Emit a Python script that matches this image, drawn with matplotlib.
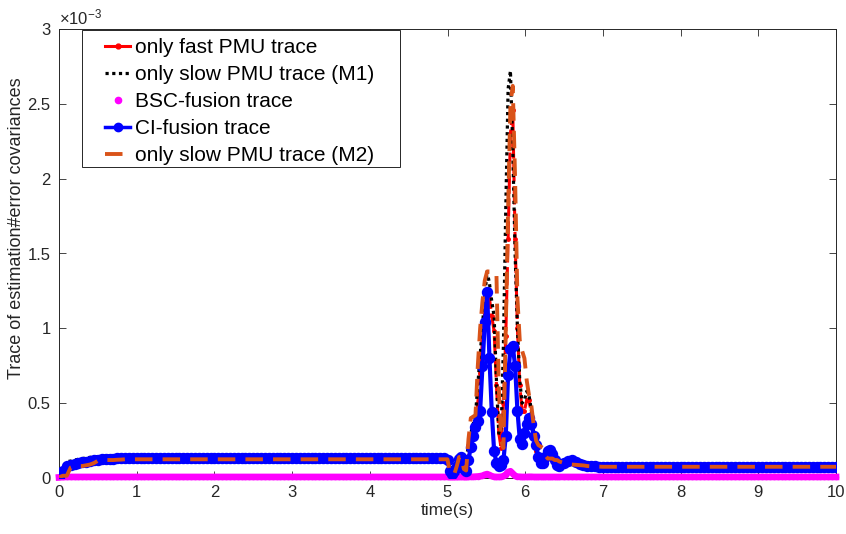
import matplotlib
matplotlib.use("Agg")
import matplotlib.pyplot as plt
from matplotlib.lines import Line2D
from matplotlib.patches import Rectangle
from matplotlib.ticker import FuncFormatter

plt.rcParams['font.family'] = ['Liberation Sans', 'DejaVu Sans']
plt.rcParams['mathtext.fontset'] = 'custom'
plt.rcParams['mathtext.rm'] = 'Liberation Sans'
plt.rcParams['mathtext.it'] = 'Liberation Sans:italic'

# ---------------- data (values in units of 1e-3) ----------------
time_s = [
    0.0, 0.05, 0.1, 0.15, 0.2, 0.25, 0.3, 0.35, 0.4, 0.45,
    0.5, 0.55, 0.6, 0.65, 0.7, 0.75, 0.8, 0.85, 0.9, 0.95, 1.0,
    1.05, 1.1, 1.15, 1.2, 1.25, 1.3, 1.35, 1.4, 1.45, 1.5,
    1.55, 1.6, 1.65, 1.7, 1.75, 1.8, 1.85, 1.9, 1.95, 2.0,
    2.05, 2.1, 2.15, 2.2, 2.25, 2.3, 2.35, 2.4, 2.45, 2.5,
    2.55, 2.6, 2.65, 2.7, 2.75, 2.8, 2.85, 2.9, 2.95, 3.0,
    3.05, 3.1, 3.15, 3.2, 3.25, 3.3, 3.35, 3.4, 3.45, 3.5,
    3.55, 3.6, 3.65, 3.7, 3.75, 3.8, 3.85, 3.9, 3.95, 4.0,
    4.05, 4.1, 4.15, 4.2, 4.25, 4.3, 4.35, 4.4, 4.45, 4.5,
    4.55, 4.6, 4.65, 4.7, 4.75, 4.8, 4.85, 4.9, 4.95,
    5.00, 5.03, 5.06, 5.09, 5.12, 5.15, 5.18, 5.21, 5.24, 5.27, 5.30, 5.33,
    5.36, 5.39, 5.42, 5.45, 5.48, 5.51, 5.54, 5.57, 5.60, 5.63, 5.66, 5.69,
    5.72, 5.75, 5.78, 5.81, 5.84, 5.87, 5.90, 5.93, 5.96, 5.99, 6.02, 6.05,
    6.08, 6.11, 6.14, 6.17, 6.20, 6.23, 6.26, 6.29, 6.32, 6.35, 6.38, 6.41, 6.44,
    6.50, 6.55, 6.60, 6.65, 6.70, 6.75, 6.80, 6.85, 6.90, 6.95,
    7.0, 7.05, 7.1, 7.15, 7.2, 7.25, 7.3, 7.35, 7.4, 7.45,
    7.5, 7.55, 7.6, 7.65, 7.7, 7.75, 7.8, 7.85, 7.9, 7.95,
    8.0, 8.05, 8.1, 8.15, 8.2, 8.25, 8.3, 8.35, 8.4, 8.45,
    8.5, 8.55, 8.6, 8.65, 8.7, 8.75, 8.8, 8.85, 8.9, 8.95,
    9.0, 9.05, 9.1, 9.15, 9.2, 9.25, 9.3, 9.35, 9.4, 9.45,
    9.5, 9.55, 9.6, 9.65, 9.7, 9.75, 9.8, 9.85, 9.9, 9.95, 10.0,
]

fast_pmu = [
    0.0, 0.05, 0.08, 0.09, 0.095, 0.10, 0.105, 0.11, 0.115, 0.119,
    0.122, 0.125, 0.127, 0.129, 0.13, 0.131, 0.132, 0.133, 0.133, 0.134, 0.134,
    0.134, 0.134, 0.134, 0.134, 0.134, 0.134, 0.134, 0.134, 0.134, 0.134,
    0.134, 0.134, 0.134, 0.134, 0.134, 0.134, 0.134, 0.134, 0.134, 0.134,
    0.134, 0.134, 0.134, 0.134, 0.134, 0.134, 0.134, 0.134, 0.134, 0.134,
    0.134, 0.134, 0.134, 0.134, 0.134, 0.134, 0.134, 0.134, 0.134, 0.134,
    0.134, 0.134, 0.134, 0.134, 0.134, 0.134, 0.134, 0.134, 0.134, 0.134,
    0.134, 0.134, 0.134, 0.134, 0.134, 0.134, 0.134, 0.134, 0.134, 0.134,
    0.134, 0.134, 0.134, 0.134, 0.134, 0.134, 0.134, 0.134, 0.134, 0.134,
    0.134, 0.134, 0.134, 0.134, 0.134, 0.134, 0.134, 0.134, 0.134,
    0.12, 0.05, 0.03, 0.05, 0.08, 0.13, 0.14, 0.07, 0.07, 0.15, 0.22, 0.28,
    0.36, 0.50, 0.70, 0.92, 1.12, 1.24, 1.20, 1.08, 0.98, 0.62, 0.30, 0.20,
    0.50, 0.95, 1.60, 2.30, 2.46, 1.60, 1.00, 0.62, 0.45, 0.45, 0.52, 0.52,
    0.42, 0.28, 0.18, 0.13, 0.10, 0.10, 0.14, 0.18, 0.19, 0.16, 0.12, 0.09, 0.08,
    0.10, 0.115, 0.12, 0.11, 0.095, 0.085, 0.08, 0.078, 0.077, 0.076,
    0.076, 0.076, 0.076, 0.076, 0.076, 0.076, 0.076, 0.076, 0.076, 0.076,
    0.076, 0.076, 0.076, 0.076, 0.076, 0.076, 0.076, 0.076, 0.076, 0.076,
    0.076, 0.076, 0.076, 0.076, 0.076, 0.076, 0.076, 0.076, 0.076, 0.076,
    0.076, 0.076, 0.076, 0.076, 0.076, 0.076, 0.076, 0.076, 0.076, 0.076,
    0.076, 0.076, 0.076, 0.076, 0.076, 0.076, 0.076, 0.076, 0.076, 0.076,
    0.076, 0.076, 0.076, 0.076, 0.076, 0.076, 0.076, 0.076, 0.076, 0.076, 0.076,
]

slow_m1 = [
    0.0, 0.07, 0.11, 0.113, 0.12, 0.125, 0.13, 0.134, 0.138, 0.141,
    0.143, 0.145, 0.147, 0.148, 0.149, 0.15, 0.15, 0.15, 0.15, 0.15, 0.15,
    0.15, 0.15, 0.15, 0.15, 0.15, 0.15, 0.15, 0.15, 0.15, 0.15,
    0.15, 0.15, 0.15, 0.15, 0.15, 0.15, 0.15, 0.15, 0.15, 0.15,
    0.15, 0.15, 0.15, 0.15, 0.15, 0.15, 0.15, 0.15, 0.15, 0.15,
    0.15, 0.15, 0.15, 0.15, 0.15, 0.15, 0.15, 0.15, 0.15, 0.15,
    0.15, 0.15, 0.15, 0.15, 0.15, 0.15, 0.15, 0.15, 0.15, 0.15,
    0.15, 0.15, 0.15, 0.15, 0.15, 0.15, 0.15, 0.15, 0.15, 0.15,
    0.15, 0.15, 0.15, 0.15, 0.15, 0.15, 0.15, 0.15, 0.15, 0.15,
    0.15, 0.15, 0.15, 0.15, 0.15, 0.15, 0.15, 0.15, 0.15,
    0.14, 0.06, 0.03, 0.05, 0.09, 0.14, 0.14, 0.10, 0.12, 0.22, 0.30, 0.36,
    0.42, 0.62, 0.82, 1.02, 1.22, 1.38, 1.30, 1.18, 1.08, 0.65, 0.30, 0.30,
    0.90, 1.80, 2.60, 2.72, 2.20, 1.50, 1.00, 0.65, 0.50, 0.52, 0.58, 0.55,
    0.45, 0.30, 0.20, 0.14, 0.11, 0.11, 0.14, 0.18, 0.19, 0.16, 0.12, 0.09, 0.08,
    0.10, 0.115, 0.12, 0.11, 0.096, 0.087, 0.082, 0.08, 0.079, 0.078,
    0.078, 0.078, 0.078, 0.078, 0.078, 0.078, 0.078, 0.078, 0.078, 0.078,
    0.078, 0.078, 0.078, 0.078, 0.078, 0.078, 0.078, 0.078, 0.078, 0.078,
    0.078, 0.078, 0.078, 0.078, 0.078, 0.078, 0.078, 0.078, 0.078, 0.078,
    0.078, 0.078, 0.078, 0.078, 0.078, 0.078, 0.078, 0.078, 0.078, 0.078,
    0.078, 0.078, 0.078, 0.078, 0.078, 0.078, 0.078, 0.078, 0.078, 0.078,
    0.078, 0.078, 0.078, 0.078, 0.078, 0.078, 0.078, 0.078, 0.078, 0.078, 0.078,
]

bsc_fusion = [
    0.004, 0.006, 0.007, 0.007, 0.007, 0.007, 0.007, 0.007, 0.007, 0.007,
    0.007, 0.007, 0.007, 0.007, 0.007, 0.007, 0.007, 0.007, 0.007, 0.007, 0.007,
    0.007, 0.007, 0.007, 0.007, 0.007, 0.007, 0.007, 0.007, 0.007, 0.007,
    0.007, 0.007, 0.007, 0.007, 0.007, 0.007, 0.007, 0.007, 0.007, 0.007,
    0.007, 0.007, 0.007, 0.007, 0.007, 0.007, 0.007, 0.007, 0.007, 0.007,
    0.007, 0.007, 0.007, 0.007, 0.007, 0.007, 0.007, 0.007, 0.007, 0.007,
    0.007, 0.007, 0.007, 0.007, 0.007, 0.007, 0.007, 0.007, 0.007, 0.007,
    0.007, 0.007, 0.007, 0.007, 0.007, 0.007, 0.007, 0.007, 0.007, 0.007,
    0.007, 0.007, 0.007, 0.007, 0.007, 0.007, 0.007, 0.007, 0.007, 0.007,
    0.007, 0.007, 0.007, 0.007, 0.007, 0.007, 0.007, 0.007, 0.007,
    0.007, 0.006, 0.006, 0.006, 0.006, 0.007, 0.007, 0.006, 0.006, 0.007, 0.008, 0.008,
    0.009, 0.010, 0.012, 0.015, 0.022, 0.026, 0.020, 0.012, 0.008, 0.007, 0.007, 0.008,
    0.012, 0.022, 0.040, 0.045, 0.030, 0.014, 0.009, 0.008, 0.007, 0.007, 0.007, 0.008,
    0.008, 0.007, 0.007, 0.007, 0.007, 0.007, 0.007, 0.007, 0.007, 0.007, 0.007, 0.007, 0.007,
    0.007, 0.007, 0.007, 0.007, 0.007, 0.007, 0.007, 0.007, 0.007, 0.007,
    0.007, 0.007, 0.007, 0.007, 0.007, 0.007, 0.007, 0.007, 0.007, 0.007,
    0.007, 0.007, 0.007, 0.007, 0.007, 0.007, 0.007, 0.007, 0.007, 0.007,
    0.007, 0.007, 0.007, 0.007, 0.007, 0.007, 0.007, 0.007, 0.007, 0.007,
    0.007, 0.007, 0.007, 0.007, 0.007, 0.007, 0.007, 0.007, 0.007, 0.007,
    0.007, 0.007, 0.007, 0.007, 0.007, 0.007, 0.007, 0.007, 0.007, 0.007,
    0.007, 0.007, 0.007, 0.007, 0.007, 0.007, 0.007, 0.007, 0.007, 0.007, 0.007,
]

ci_fusion = [
    0.0, 0.05, 0.08, 0.09, 0.095, 0.10, 0.105, 0.11, 0.115, 0.119,
    0.122, 0.125, 0.127, 0.129, 0.13, 0.131, 0.132, 0.133, 0.133, 0.134, 0.134,
    0.134, 0.134, 0.134, 0.134, 0.134, 0.134, 0.134, 0.134, 0.134, 0.134,
    0.134, 0.134, 0.134, 0.134, 0.134, 0.134, 0.134, 0.134, 0.134, 0.134,
    0.134, 0.134, 0.134, 0.134, 0.134, 0.134, 0.134, 0.134, 0.134, 0.134,
    0.134, 0.134, 0.134, 0.134, 0.134, 0.134, 0.134, 0.134, 0.134, 0.134,
    0.134, 0.134, 0.134, 0.134, 0.134, 0.134, 0.134, 0.134, 0.134, 0.134,
    0.134, 0.134, 0.134, 0.134, 0.134, 0.134, 0.134, 0.134, 0.134, 0.134,
    0.134, 0.134, 0.134, 0.134, 0.134, 0.134, 0.134, 0.134, 0.134, 0.134,
    0.134, 0.134, 0.134, 0.134, 0.134, 0.134, 0.134, 0.134, 0.134,
    0.12, 0.05, 0.03, 0.05, 0.08, 0.13, 0.14, 0.06, 0.05, 0.12, 0.21, 0.28,
    0.34, 0.38, 0.45, 0.75, 1.04, 1.24, 0.80, 0.44, 0.18, 0.10, 0.08, 0.09,
    0.12, 0.28, 0.69, 0.86, 0.88, 0.75, 0.45, 0.26, 0.23, 0.30, 0.36, 0.40,
    0.36, 0.28, 0.22, 0.14, 0.10, 0.10, 0.14, 0.18, 0.19, 0.16, 0.12, 0.09, 0.08,
    0.10, 0.115, 0.12, 0.11, 0.095, 0.085, 0.08, 0.078, 0.077, 0.076,
    0.075, 0.075, 0.075, 0.075, 0.075, 0.075, 0.075, 0.075, 0.075, 0.075,
    0.075, 0.075, 0.075, 0.075, 0.075, 0.075, 0.075, 0.075, 0.075, 0.075,
    0.075, 0.075, 0.075, 0.075, 0.075, 0.075, 0.075, 0.075, 0.075, 0.075,
    0.075, 0.075, 0.075, 0.075, 0.075, 0.075, 0.075, 0.075, 0.075, 0.075,
    0.075, 0.075, 0.075, 0.075, 0.075, 0.075, 0.075, 0.075, 0.075, 0.075,
    0.075, 0.075, 0.075, 0.075, 0.075, 0.075, 0.075, 0.075, 0.075, 0.075, 0.075,
]

slow_m2 = [
    0.005, 0.015, 0.015, 0.07, 0.08, 0.08, 0.08, 0.085, 0.09, 0.10,
    0.115, 0.118, 0.12, 0.12, 0.12, 0.122, 0.123, 0.125, 0.125, 0.125, 0.125,
    0.125, 0.125, 0.125, 0.125, 0.125, 0.125, 0.125, 0.125, 0.125, 0.125,
    0.125, 0.125, 0.125, 0.125, 0.125, 0.125, 0.125, 0.125, 0.125, 0.125,
    0.125, 0.125, 0.125, 0.125, 0.125, 0.125, 0.125, 0.125, 0.125, 0.125,
    0.125, 0.125, 0.125, 0.125, 0.125, 0.125, 0.125, 0.125, 0.125, 0.125,
    0.125, 0.125, 0.125, 0.125, 0.125, 0.125, 0.125, 0.125, 0.125, 0.125,
    0.125, 0.125, 0.125, 0.125, 0.125, 0.125, 0.125, 0.125, 0.125, 0.125,
    0.125, 0.125, 0.125, 0.125, 0.125, 0.125, 0.125, 0.125, 0.125, 0.125,
    0.125, 0.125, 0.125, 0.125, 0.125, 0.125, 0.125, 0.125, 0.125,
    0.125, 0.04, 0.03, 0.03, 0.08, 0.14, 0.14, 0.06, 0.05, 0.26, 0.40, 0.41,
    0.42, 0.75, 1.00, 1.18, 1.32, 1.38, 1.38, 1.38, 1.38, 1.36, 0.60, 0.25,
    0.20, 1.00, 1.80, 2.50, 2.62, 2.00, 1.20, 0.92, 0.85, 0.80, 0.65, 0.55,
    0.48, 0.35, 0.25, 0.22, 0.21, 0.20, 0.15, 0.13, 0.13, 0.13, 0.12, 0.12, 0.11,
    0.10, 0.095, 0.09, 0.088, 0.086, 0.084, 0.08, 0.078, 0.077, 0.076,
    0.075, 0.075, 0.075, 0.075, 0.075, 0.075, 0.075, 0.075, 0.075, 0.075,
    0.075, 0.075, 0.075, 0.075, 0.075, 0.075, 0.075, 0.075, 0.075, 0.075,
    0.075, 0.075, 0.075, 0.075, 0.075, 0.075, 0.075, 0.075, 0.075, 0.075,
    0.075, 0.075, 0.075, 0.075, 0.075, 0.075, 0.075, 0.075, 0.075, 0.075,
    0.075, 0.075, 0.075, 0.075, 0.075, 0.075, 0.075, 0.075, 0.075, 0.075,
    0.075, 0.075, 0.075, 0.075, 0.075, 0.075, 0.075, 0.075, 0.075, 0.075, 0.075,
]

series_labels = [
    'only fast PMU trace',
    'only slow PMU trace (M1)',
    'BSC-fusion trace',
    'CI-fusion trace',
    'only slow PMU trace (M2)',
]
x_ticks = [0, 1, 2, 3, 4, 5, 6, 7, 8, 9, 10]
y_ticks = [0, 0.5, 1, 1.5, 2, 2.5, 3]
SCALE = 1e-3

# ---------------- styling ----------------
C_RED = (1.0, 0.0, 0.0)
C_BLACK = (0.0, 0.0, 0.0)
C_MAG = (1.0, 0.0, 1.0)
C_BLUE = (0.0, 0.0, 1.0)
C_ORANGE = (0.851, 0.325, 0.098)
AX_COL = (0.15, 0.15, 0.15)

W, H = 846, 534
fig = plt.figure(figsize=(W / 100, H / 100), dpi=100)
L, R, T, B = 59, 836, 29, 478
ax = fig.add_axes([L / W, (H - B) / H, (R - L) / W, (B - T) / H])

def sc(vals):
    return [v * SCALE for v in vals]

ax.plot(time_s, sc(fast_pmu), color=C_RED, lw=2.2, ls=(0, (6, 1.5)),
        marker='.', ms=5, zorder=2)
ax.plot(time_s, sc(slow_m1), color=C_BLACK, lw=2.3, ls=(0, (1, 1.1)),
        dash_capstyle='butt', zorder=3)
ax.plot(time_s, sc(bsc_fusion), color=C_MAG, lw=4.8, ls='-', marker='.', ms=6,
        zorder=4, clip_on=False)
ax.plot(time_s, sc(ci_fusion), color=C_BLUE, lw=3.0, ls='-', marker='o', ms=7.2,
        markeredgecolor=C_BLUE, zorder=5)
ax.plot(time_s, sc(slow_m2), color=C_ORANGE, lw=2.8, ls=(0, (4.5, 2.6)),
        dash_capstyle='butt', zorder=6)

ax.set_xlim(0, 10)
ax.set_ylim(0, 3 * SCALE)
ax.set_xticks(x_ticks)
ax.set_yticks(sc(y_ticks))
ax.xaxis.set_major_formatter(FuncFormatter(lambda v, p: f'{v:g}'))
ax.yaxis.set_major_formatter(FuncFormatter(lambda v, p: f'{v / SCALE:g}'))
ax.tick_params(direction='in', top=True, right=True, length=5, width=0.6,
               colors=AX_COL, labelsize=12, pad=5)
ax.tick_params(axis='y', pad=6)
for s in ax.spines.values():
    s.set_color(AX_COL)
    s.set_linewidth(0.7)

ax.set_xlabel('time(s)', fontsize=12.5, color=AX_COL, labelpad=2)
ax.set_ylabel('Trace of estimation#error covariances', fontsize=13, color=AX_COL)
ax.yaxis.set_label_coords((25 - L) / (R - L), (B - 228) / (B - T))
ax.text(0.0, 1.004, r'$\times10^{-3}$', transform=ax.transAxes, fontsize=12,
        color=AX_COL, ha='left', va='bottom')

# legend (MATLAB-like box)
fx0, fx1, fy0, fy1 = 82, 400, 30, 167
frame = Rectangle(((fx0 - L) / (R - L), (B - fy1) / (B - T)),
                  (fx1 - fx0) / (R - L), (fy1 - fy0) / (B - T),
                  transform=ax.transAxes, facecolor='white', edgecolor=AX_COL,
                  lw=0.7, zorder=10)
ax.add_patch(frame)
handles = [
    Line2D([], [], color=C_RED, lw=2.2, ls='-', marker='.', ms=7),
    Line2D([], [], color=C_BLACK, lw=2.3, ls=(0, (1, 1.1))),
    Line2D([], [], color=C_MAG, ls='none', marker='.', ms=9),
    Line2D([], [], color=C_BLUE, lw=2.5, ls='-', marker='o', ms=6),
    Line2D([], [], color=C_ORANGE, lw=2.8, ls=(0, (4.5, 2.6))),
]
leg = ax.legend(handles, series_labels, loc='upper left',
                bbox_to_anchor=((105 - L) / (R - L), (B - 38.5) / (B - T)),
                borderaxespad=0, borderpad=0, frameon=False, fontsize=15,
                handlelength=1.2, handletextpad=0.24, labelspacing=0.38)
leg.set_zorder(11)
for txt in leg.get_texts():
    txt.set_color((0.0, 0.0, 0.0))

fig.savefig('out.png', dpi=100)
